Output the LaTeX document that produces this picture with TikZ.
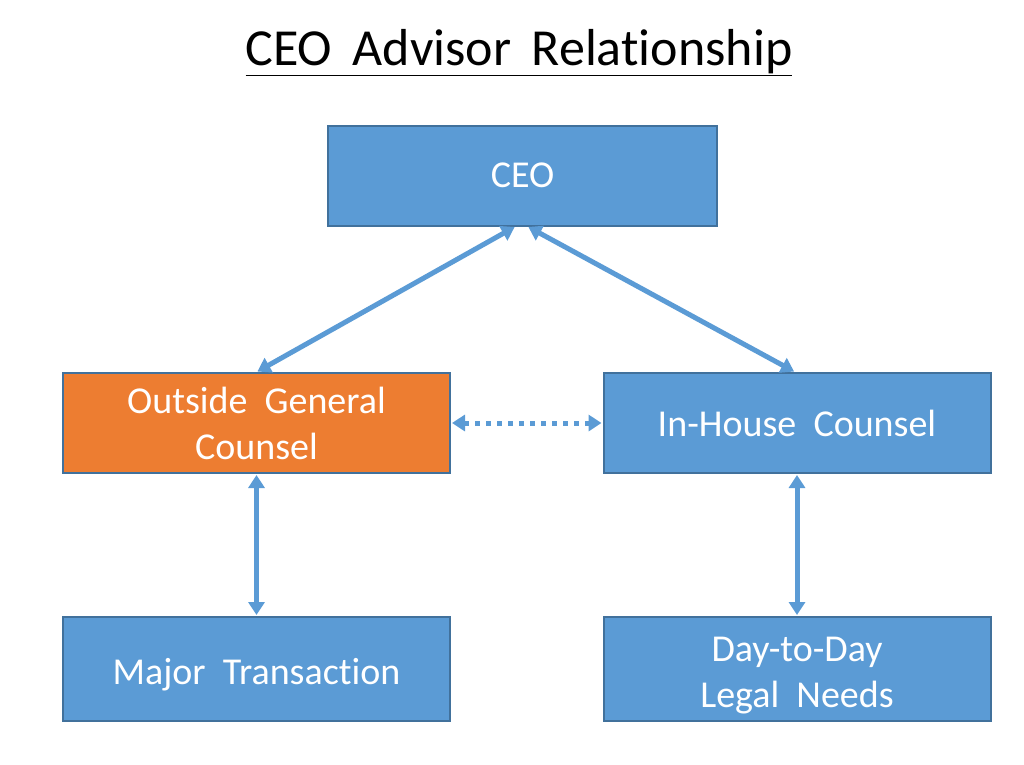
\documentclass[tikz,border=0pt]{standalone}
\usepackage{fontspec}
\setmainfont{Carlito}[RawFeature={-liga;-clig;-calt}]
\usetikzlibrary{arrows.meta}
\definecolor{boxblue}{HTML}{5B9BD5}
\definecolor{boxedge}{HTML}{41719C}
\definecolor{boxorange}{HTML}{ED7D31}
\tikzset{
  rolebox/.style={draw=boxedge, line width=2pt, fill=boxblue, text=white,
    minimum width=387pt, minimum height=100pt, align=center, inner sep=0pt,
    font=\fontsize{38}{46}\selectfont},
  link/.style={boxblue, line width=5pt, {Triangle[length=13pt,width=16pt]}-{Triangle[length=13pt,width=16pt]}}
}
\begin{document}
\begin{tikzpicture}[x=1pt,y=-1pt]
  \useasboundingbox (0,0) rectangle (1024,764);
  \node (title) at (519,53) {\fontsize{52}{62}\selectfont\underline{CEO\ \,Advisor\ \,Relationship}};
  \node[rolebox, minimum width=389pt] (ceo) at (522.5,175.5) {CEO};
  \node[rolebox, fill=boxorange] (ogc) at (256.5,423) {Outside\ \ General\\Counsel};
  \node[rolebox] (ihc) at (797,423) {In-House\ \ Counsel};
  \node[rolebox, minimum height=104pt, text height=38pt, text depth=8pt] (mt) at (256.5,669) {Major\ \ Transaction};
  \node[rolebox, minimum height=104pt, text height=84pt, text depth=8pt] (dtd) at (797,669) {Day-to-Day\\Legal\ \ Needs};
  % connectors
  \begin{scope}[shorten <=1pt, shorten >=1pt]
    \draw[link] ([xshift=-7pt]ceo.south) -- (ogc.north);
    \draw[link] ([xshift=5pt]ceo.south) -- ([xshift=-2pt]ihc.north);
    \draw[link] (ogc.south) -- (mt.north);
    \draw[link] (ihc.south) -- (dtd.north);
    \draw[link, dash pattern=on 5pt off 6pt] (ogc.east) -- (ihc.west);
  \end{scope}
\end{tikzpicture}
\end{document}
